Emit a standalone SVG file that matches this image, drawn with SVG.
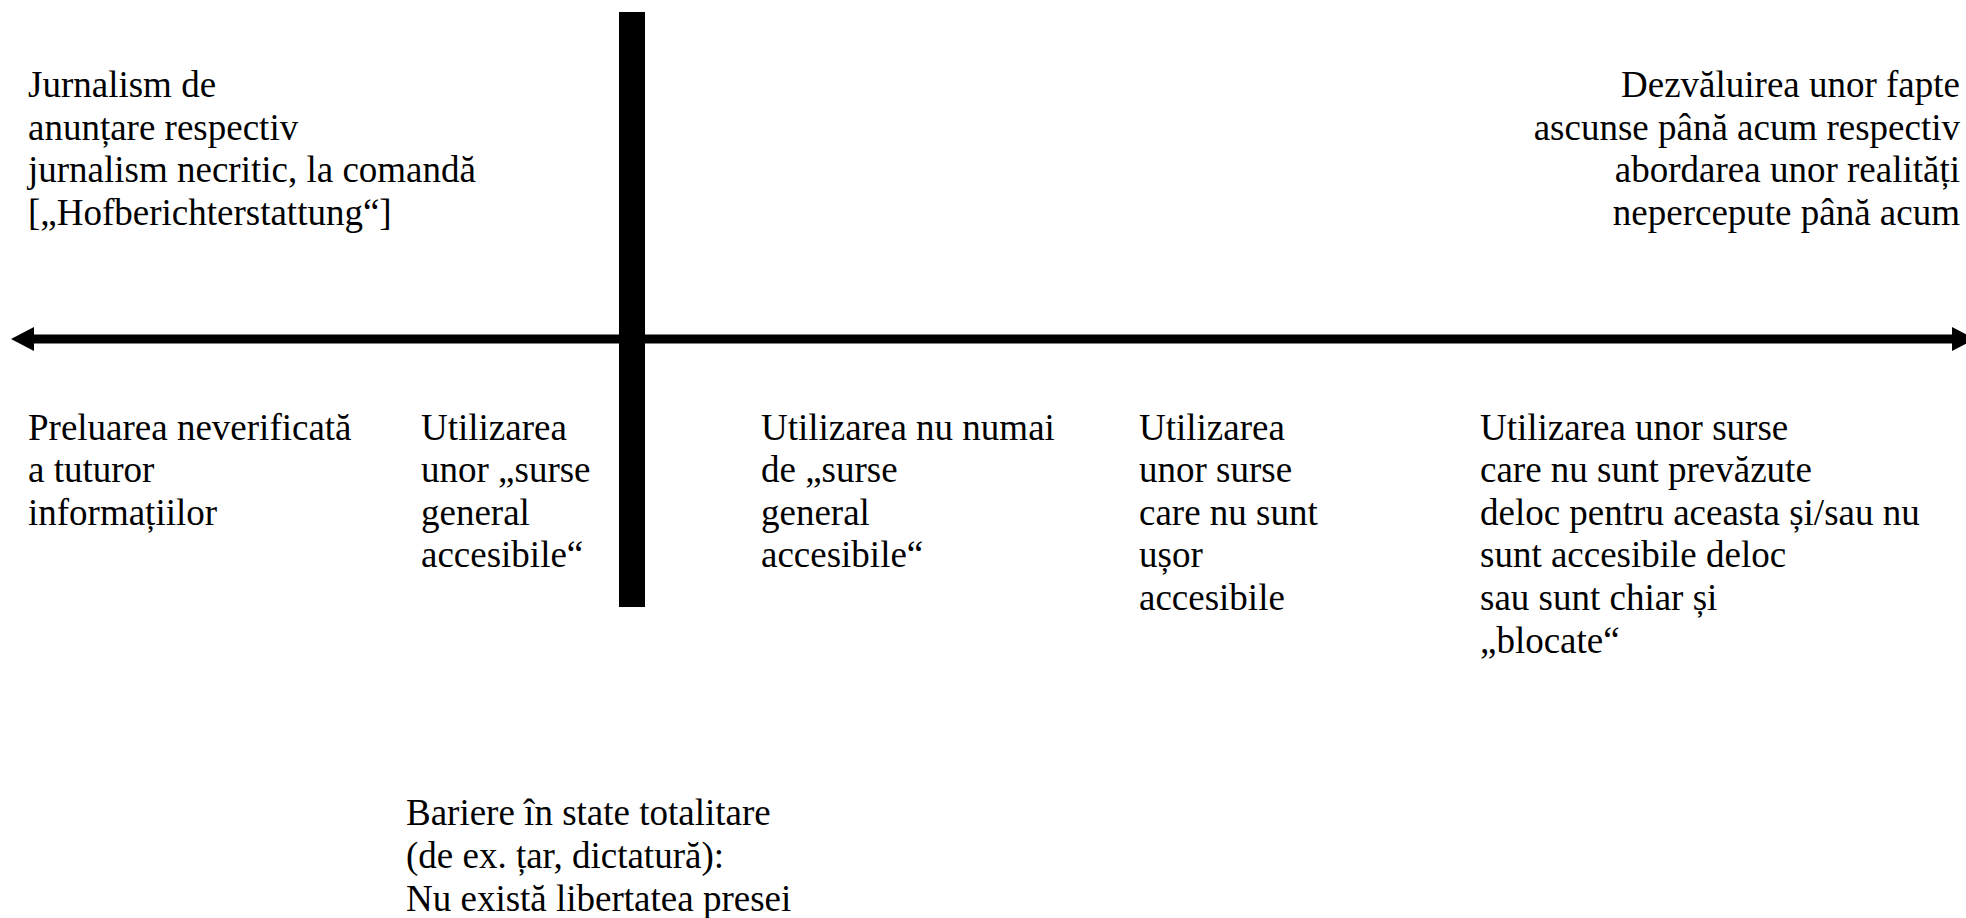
<svg xmlns="http://www.w3.org/2000/svg" width="1966" height="918" viewBox="0 0 1966 918">
<style>
  text { font-family: "Liberation Serif", "Times New Roman", serif; font-size: 37px; fill: #000; }
  .r { text-anchor: end; }
</style>
<rect x="0" y="0" width="1966" height="918" fill="#fff"/>
<g id="connectors">
  <line x1="30" y1="339" x2="1955" y2="339" stroke="#000" stroke-width="9"/>
  <polygon points="11,339 34,327 34,351" fill="#000"/>
  <polygon points="1975,339 1952,327 1952,351" fill="#000"/>
  <rect id="barrier" x="619" y="12" width="26" height="595" fill="#000"/>
</g>
<g id="left-top">
  <text x="28" y="97">Jurnalism de</text>
  <text x="28" y="139.5">anunțare respectiv</text>
  <text x="28" y="182">jurnalism necritic, la comandă</text>
  <text x="28" y="224.5">[„Hofberichterstattung“]</text>
</g>
<g id="right-top">
  <text class="r" x="1960" y="97">Dezvăluirea unor fapte</text>
  <text class="r" x="1960" y="139.5">ascunse până acum respectiv</text>
  <text class="r" x="1960" y="182">abordarea unor realități</text>
  <text class="r" x="1960" y="224.5">nepercepute până acum</text>
</g>
<g id="col1">
  <text x="28" y="439.5">Preluarea neverificată</text>
  <text x="28" y="482">a tuturor</text>
  <text x="28" y="524.7">informațiilor</text>
</g>
<g id="col2">
  <text x="421" y="439.5">Utilizarea</text>
  <text x="421" y="482">unor „surse</text>
  <text x="421" y="524.7">general</text>
  <text x="421" y="567.3">accesibile“</text>
</g>
<g id="col3">
  <text x="761" y="439.5">Utilizarea nu numai</text>
  <text x="761" y="482">de „surse</text>
  <text x="761" y="524.7">general</text>
  <text x="761" y="567.3">accesibile“</text>
</g>
<g id="col4">
  <text x="1139" y="439.5">Utilizarea</text>
  <text x="1139" y="482">unor surse</text>
  <text x="1139" y="524.7">care nu sunt</text>
  <text x="1139" y="567.3">ușor</text>
  <text x="1139" y="610">accesibile</text>
</g>
<g id="col5">
  <text x="1480" y="439.5">Utilizarea unor surse</text>
  <text x="1480" y="482">care nu sunt prevăzute</text>
  <text x="1480" y="524.7">deloc pentru aceasta și/sau nu</text>
  <text x="1480" y="567.3">sunt accesibile deloc</text>
  <text x="1480" y="610">sau sunt chiar și</text>
  <text x="1480" y="652.7">„blocate“</text>
</g>
<g id="bottom">
  <text x="406" y="825">Bariere în state totalitare</text>
  <text x="406" y="868">(de ex. țar, dictatură):</text>
  <text x="406" y="911">Nu există libertatea presei</text>
</g>
</svg>
